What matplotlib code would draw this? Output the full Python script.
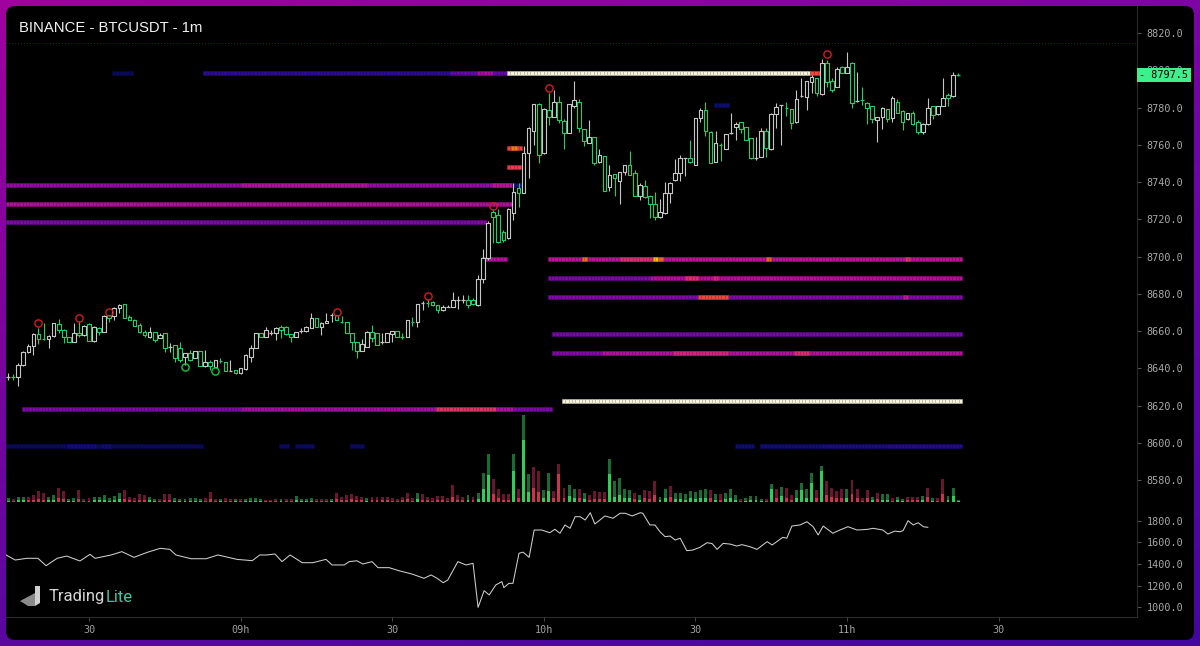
import numpy as np
import matplotlib
matplotlib.use("Agg")
import matplotlib.pyplot as plt
from matplotlib.patches import Rectangle, FancyBboxPatch, Polygon
from matplotlib.collections import PatchCollection, LineCollection
from matplotlib.colors import LinearSegmentedColormap, to_rgb
from matplotlib.transforms import blended_transform_factory
from matplotlib.ticker import FormatStrFormatter

plt.rcParams['font.family'] = ['DejaVu Sans Mono']

# ---------------- data ----------------
first_minute = 14  # 08:14
c_open = [8635.5, 8635.8, 8635.5, 8641.8, 8648.9, 8652.1, 8658.4, 8656.0, 8655.5, 8657.3,
          8663.6, 8660.5, 8656.6, 8654.3, 8659.1, 8657.9, 8663.8, 8654.8, 8661.4, 8659.6,
          8668.4, 8668.1, 8672.2, 8674.3, 8667.7, 8665.9, 8663.2, 8659.6, 8656.6, 8659.6,
          8656.1, 8658.8, 8651.4, 8652.5, 8650.7, 8645.8, 8648.4, 8645.3, 8649.4, 8641.2,
          8643.5, 8640.5, 8644.2, 8643.5, 8638.7, 8639.2, 8637.3, 8639.4, 8645.8, 8650.7,
          8659.1, 8656.6, 8659.0, 8658.8, 8662.3, 8662.3, 8658.4, 8656.6, 8660.2, 8660.2,
          8661.4, 8666.8, 8662.3, 8664.5, 8668.6, 8668.6, 8665.1, 8665.0, 8659.1, 8653.9,
          8649.4, 8651.2, 8659.6, 8658.8, 8654.3, 8653.9, 8658.4, 8660.2, 8657.1, 8656.6,
          8665.1, 8665.0, 8675.2, 8675.3, 8675.8, 8674.0, 8671.3, 8673.0, 8673.0, 8676.6,
          8676.6, 8676.6, 8676.6, 8674.0, 8688.0, 8699.0, 8724.0, 8722.3, 8713.3, 8709.7,
          8723.5, 8736.6, 8733.9, 8755.7, 8767.6, 8781.7, 8755.4, 8778.6, 8774.7, 8782.8,
          8772.7, 8766.5, 8780.8, 8782.8, 8768.4, 8760.7, 8764.0, 8751.0, 8754.1, 8737.1,
          8744.3, 8740.7, 8745.5, 8749.1, 8744.6, 8732.5, 8737.8, 8732.5, 8728.2, 8721.0,
          8723.2, 8733.9, 8740.9, 8744.6, 8752.7, 8752.7, 8749.1, 8774.2, 8778.6, 8767.0,
          8750.9, 8760.0, 8757.5, 8766.5, 8769.3, 8772.4, 8769.3, 8763.4, 8752.7, 8753.6,
          8767.6, 8757.5, 8776.5, 8781.3, 8779.6, 8779.0, 8772.4, 8786.2, 8785.4, 8793.9,
          8795.7, 8787.3, 8804.0, 8794.4, 8791.2, 8801.9, 8798.7, 8804.0, 8783.6, 8784.0,
          8782.6, 8780.8, 8773.3, 8774.7, 8779.0, 8774.2, 8783.1, 8778.3, 8773.6, 8777.2,
          8772.4, 8767.0, 8771.1, 8780.8, 8776.5, 8780.8, 8786.7, 8786.2, 8797.8]
c_high = [8637.3, 8636.7, 8642.7, 8649.4, 8653.0, 8658.8, 8661.5, 8664.5, 8657.9, 8664.5,
          8666.3, 8660.9, 8657.0, 8664.1, 8665.5, 8663.2, 8664.5, 8662.7, 8662.3, 8668.6,
          8668.6, 8672.7, 8674.5, 8674.5, 8668.6, 8666.3, 8664.1, 8660.5, 8662.3, 8659.6,
          8658.8, 8658.8, 8653.4, 8652.5, 8654.3, 8648.4, 8649.8, 8649.4, 8649.4, 8649.8,
          8644.4, 8644.4, 8645.3, 8643.5, 8644.4, 8639.2, 8640.0, 8647.7, 8652.5, 8658.8,
          8659.1, 8662.0, 8660.5, 8662.3, 8663.2, 8662.7, 8658.4, 8659.6, 8661.4, 8662.7,
          8669.5, 8666.8, 8665.0, 8669.5, 8669.5, 8668.8, 8668.0, 8665.0, 8659.1, 8653.9,
          8655.5, 8660.2, 8663.2, 8658.8, 8658.8, 8659.1, 8660.2, 8660.2, 8659.1, 8665.9,
          8667.4, 8674.5, 8676.3, 8677.0, 8676.3, 8674.0, 8674.0, 8674.0, 8681.1, 8678.8,
          8679.3, 8679.3, 8677.5, 8690.0, 8704.0, 8719.0, 8725.5, 8725.3, 8714.2, 8725.8,
          8739.3, 8739.3, 8759.3, 8769.7, 8781.7, 8782.2, 8779.5, 8788.0, 8789.4, 8786.2,
          8773.6, 8781.7, 8794.4, 8784.4, 8768.4, 8773.3, 8764.0, 8757.5, 8754.1, 8749.1,
          8744.3, 8745.2, 8749.1, 8756.8, 8746.4, 8739.3, 8741.0, 8733.0, 8734.8, 8730.7,
          8740.0, 8740.2, 8752.2, 8754.5, 8752.9, 8762.5, 8774.2, 8779.5, 8783.1, 8767.6,
          8767.6, 8760.7, 8765.8, 8777.2, 8772.4, 8772.4, 8769.3, 8763.4, 8764.3, 8768.8,
          8768.8, 8776.9, 8782.2, 8781.3, 8783.1, 8779.0, 8789.4, 8795.7, 8794.4, 8797.4,
          8795.7, 8806.0, 8805.5, 8795.7, 8801.9, 8802.3, 8810.0, 8804.5, 8799.2, 8790.8,
          8783.1, 8780.8, 8774.7, 8780.4, 8779.0, 8786.2, 8784.4, 8778.6, 8777.2, 8778.3,
          8773.3, 8771.8, 8784.9, 8780.8, 8780.8, 8795.7, 8787.6, 8799.2, 8798.3]
c_low = [8633.7, 8633.7, 8630.5, 8641.2, 8648.0, 8647.1, 8653.0, 8655.3, 8650.7, 8657.0,
         8658.8, 8653.4, 8654.3, 8654.3, 8656.6, 8657.3, 8654.8, 8654.3, 8657.9, 8659.6,
         8665.0, 8666.0, 8669.5, 8667.2, 8665.9, 8662.9, 8659.1, 8657.0, 8656.1, 8654.3,
         8656.1, 8648.9, 8648.9, 8643.5, 8643.5, 8641.8, 8644.0, 8645.3, 8641.2, 8640.8,
         8639.0, 8640.5, 8642.7, 8638.7, 8638.7, 8637.0, 8637.0, 8639.0, 8643.5, 8650.7,
         8656.6, 8656.6, 8657.9, 8655.2, 8656.1, 8657.9, 8654.3, 8656.6, 8658.8, 8659.6,
         8661.4, 8662.3, 8657.9, 8664.5, 8665.0, 8665.9, 8664.5, 8658.8, 8649.8, 8645.3,
         8649.4, 8651.2, 8654.3, 8652.5, 8653.0, 8653.9, 8654.3, 8656.6, 8655.5, 8656.6,
         8662.9, 8662.0, 8671.3, 8673.1, 8673.5, 8669.5, 8671.0, 8672.7, 8672.7, 8671.6,
         8675.2, 8672.2, 8674.0, 8673.5, 8686.0, 8698.0, 8707.4, 8707.4, 8707.9, 8709.2,
         8719.6, 8726.7, 8733.9, 8742.0, 8759.9, 8750.4, 8754.8, 8770.6, 8774.7, 8771.8,
         8757.5, 8766.1, 8779.5, 8767.0, 8759.3, 8760.7, 8749.0, 8750.0, 8735.3, 8735.3,
         8732.5, 8728.2, 8743.7, 8743.7, 8732.5, 8730.3, 8731.2, 8720.5, 8719.6, 8720.5,
         8722.8, 8728.5, 8740.7, 8740.7, 8743.2, 8750.0, 8749.1, 8772.4, 8764.7, 8750.0,
         8750.9, 8751.4, 8757.5, 8765.8, 8762.5, 8766.5, 8762.5, 8752.2, 8751.8, 8753.6,
         8753.6, 8757.2, 8768.8, 8759.9, 8775.4, 8768.2, 8771.5, 8785.5, 8778.6, 8787.6,
         8786.2, 8786.6, 8790.8, 8788.5, 8790.8, 8798.3, 8798.7, 8779.5, 8783.1, 8781.3,
         8771.1, 8771.5, 8761.6, 8768.3, 8772.4, 8772.4, 8776.9, 8767.9, 8773.3, 8770.6,
         8765.8, 8765.8, 8770.6, 8773.6, 8776.0, 8780.8, 8780.8, 8785.8, 8797.0]
c_close = [8635.5, 8635.3, 8641.8, 8648.9, 8652.1, 8658.4, 8655.5, 8655.5, 8657.3, 8664.1,
           8660.5, 8656.6, 8654.3, 8659.1, 8657.9, 8662.7, 8654.8, 8662.3, 8659.6, 8668.1,
           8667.2, 8672.2, 8674.0, 8667.2, 8665.9, 8662.9, 8659.6, 8657.9, 8659.6, 8655.2,
           8657.9, 8650.7, 8651.6, 8645.3, 8644.4, 8648.4, 8644.4, 8649.4, 8641.2, 8643.5,
           8641.2, 8644.4, 8644.0, 8638.7, 8638.8, 8637.3, 8640.0, 8647.1, 8650.7, 8658.8,
           8656.6, 8660.5, 8659.1, 8661.4, 8660.5, 8658.4, 8656.6, 8659.6, 8660.2, 8662.3,
           8666.8, 8662.3, 8664.5, 8665.5, 8668.6, 8665.9, 8664.9, 8658.8, 8653.9, 8649.4,
           8653.0, 8659.6, 8656.1, 8652.5, 8654.3, 8659.1, 8660.2, 8656.6, 8656.9, 8665.9,
           8664.9, 8674.5, 8675.2, 8675.1, 8674.0, 8671.3, 8673.0, 8673.0, 8676.6, 8676.6,
           8676.6, 8674.0, 8674.5, 8688.0, 8699.0, 8718.0, 8721.4, 8708.0, 8708.8, 8725.3,
           8734.8, 8733.9, 8755.7, 8768.8, 8781.7, 8754.5, 8779.0, 8774.7, 8782.8, 8773.3,
           8766.1, 8781.7, 8784.0, 8768.8, 8762.2, 8764.0, 8750.0, 8754.5, 8735.3, 8743.7,
           8741.9, 8745.2, 8749.1, 8743.7, 8732.5, 8738.4, 8732.1, 8728.2, 8721.4, 8724.0,
           8733.9, 8739.6, 8745.0, 8752.7, 8752.7, 8750.9, 8774.2, 8778.6, 8767.6, 8750.0,
           8760.7, 8759.8, 8765.8, 8766.5, 8771.1, 8768.2, 8762.5, 8752.7, 8752.7, 8767.6,
           8758.1, 8776.5, 8780.4, 8781.3, 8779.4, 8771.8, 8784.4, 8786.2, 8794.4, 8796.2,
           8787.6, 8804.0, 8793.9, 8789.4, 8800.5, 8798.3, 8801.9, 8782.6, 8783.6, 8783.8,
           8780.0, 8773.6, 8774.7, 8779.9, 8773.6, 8784.9, 8777.2, 8772.4, 8777.2, 8771.1,
           8767.0, 8771.1, 8779.5, 8776.0, 8780.8, 8784.9, 8784.9, 8797.4, 8797.5]

vol = [4, 2.7, 5.3, 5.3, 5.3, 6.7, 10.7, 8.7, 5.3, 7.3,
       13.7, 11, 3.3, 4.3, 12, 2.7, 4, 5, 5, 6.7,
       4, 6, 9.3, 11.7, 5.3, 3.7, 7.7, 6.7, 4.7, 2.7,
       2.7, 8.3, 7.7, 4, 2.7, 3.3, 3.7, 4, 3.3, 4,
       10, 2.7, 3.3, 4, 3.3, 2.7, 3.3, 2.7, 4.3, 3.7,
       3.3, 2, 2, 2.7, 3.3, 2.7, 3.3, 6, 2.7, 2.7,
       4, 3.3, 3.3, 3.3, 3.3, 9.3, 5.3, 6.7, 8, 6,
       5.3, 4, 5.3, 5.3, 4.7, 4.7, 4.3, 3.3, 5, 8.7,
       4, 8.7, 7.7, 5, 4.3, 5.7, 5.7, 4.3, 17.3, 6.7,
       4.7, 6.7, 5, 8.7, 29.3, 48.3, 23.3, 13.3, 7.7, 7.7,
       47.7, 13.3, 87, 28.3, 35, 31, 12, 29.3, 11, 38.3,
       13.7, 16.7, 12.7, 13.3, 8.7, 6.7, 11, 10, 10, 43.3,
       21, 24.3, 13.3, 12, 8.7, 6.7, 12, 11, 21, 5.3,
       12.7, 16, 8.7, 9.3, 7.7, 11, 10, 12, 13.3, 12,
       7.7, 7.7, 8.7, 12.7, 6.7, 3.3, 4, 6, 6, 2.7,
       3.3, 18.3, 12.7, 15.3, 14.3, 6.7, 12, 18.7, 12.7, 29.3,
       12, 36, 21, 14.3, 11, 12.7, 13.3, 22, 13.3, 4.3,
       12, 5.3, 9.3, 7.7, 7.7, 4.3, 5.3, 3.3, 5, 5.3,
       5.3, 6, 14.3, 4.3, 4.3, 22.7, 6, 14.3, 2]
vol_b = [1.5, 1, 2, 2, 2, 2, 3, 2.5, 2, 2.5,
         4, 3, 1.5, 1.5, 3, 1, 1.5, 2, 2, 2.5,
         1.5, 2, 3, 3.5, 2, 1.5, 2.5, 2, 2, 1,
         1, 2.5, 2.5, 1.5, 1, 1.5, 1.5, 1.5, 1.5, 1.5,
         3, 1, 1.5, 1.5, 1.5, 1, 1.5, 1, 1.5, 1.5,
         1.5, 1, 1, 1, 1.5, 1, 1.5, 2.5, 1, 1,
         1.5, 1.5, 1.5, 1.5, 1.5, 3, 2, 2.5, 3, 2,
         2, 1.5, 2, 2, 2, 2, 1.5, 1.5, 2, 3,
         1.5, 3.5, 2.5, 2, 1.5, 2, 2, 1.5, 5, 2.5,
         2, 2.5, 2, 3, 13, 27, 8, 4, 2.5, 2.5,
         31, 4, 62, 10, 14, 10, 4, 11, 4, 27.7,
         4, 6, 4, 4, 3, 2.5, 3.5, 3.5, 3.5, 27.7,
         5.3, 6.7, 4, 4, 3, 2.5, 4, 3.5, 7, 2,
         4, 5, 3, 3, 2.5, 4, 3.5, 4, 4.5, 4,
         2.5, 2.5, 3, 4, 2.5, 1.5, 1.5, 2, 2, 1,
         1.5, 12.7, 4, 6, 4.5, 2.5, 4, 12, 4, 19.3,
         4, 31, 7, 5, 4, 4, 4.5, 8, 4.5, 1.5,
         4, 2, 3, 2.5, 2.5, 1.5, 2, 1.5, 2, 2,
         2, 2, 5, 1.5, 1.5, 8, 2, 6, 1]
vol_side = ("grggrrrrg" "g"
            "rrggrrrggg"
            "gggrrrrrgg"
            "rrrggggggr"
            "rrgrrgrggg"
            "grrrgrrggg"
            "grrrgrrrrr"
            "rgrrrrrrrr"
            "rgrrrrrrrr"
            "rgrgggrrrr"
            "grggrrggrr"
            "rggrgrrrrg"
            "ggggrgrrrg"
            "grgggggggr"
            "grgggrgggg"
            "rgrgrrgggg"
            "rgrrrrgrrr"
            "rgrggrggrr"
            "rgrgrrggg")

cvd_t = [13.6, 15.4, 17.7, 19.9, 21.5, 23.7, 25.6, 28.2, 30.2, 31.2, 34.4, 36.5, 38.9, 41.5,
         44.1, 46.0, 47.2, 50.2, 53.2, 55.5, 59.3, 62.3, 63.8, 65.2, 66.8, 68.2, 69.8, 72.2,
         74.3, 76.9, 78.1, 80.5, 81.5, 83.0, 84.2, 86.0, 87.2, 89.4, 91.3, 93.9, 96.3, 97.7,
         98.9, 100.1, 101.0, 103.0, 104.6, 106.0, 107.0, 108.2, 109.2, 110.5, 111.7, 112.1,
         113.1, 113.9, 115.1, 115.9, 117.1, 118.1, 119.6,
         121.2, 122.2, 123.2, 124.2, 125.2, 126.2, 127.2, 128.2, 129.2, 130.1,
         131.1, 132.1, 133.7, 135.1, 136.1, 137.5, 139.1, 139.6, 141.0, 142.0,
         143.0, 144.0, 145.0, 146.0, 147.0, 148.3, 149.5, 150.9, 152.3, 153.3,
         154.3, 155.5, 156.9, 158.2, 159.2, 160.8, 162.2, 164.2, 165.2, 167.3,
         168.1, 169.1, 170.7, 172.1, 173.3, 174.3, 175.3, 177.2, 178.6, 180.2,
         182.0, 184.0, 185.2, 187.1, 188.1, 189.5, 190.5, 191.1, 192.1, 193.1,
         194.1, 195.1, 196.0]
cvd_v = [1484, 1437, 1453, 1453, 1384, 1453, 1474, 1428, 1490, 1453, 1484, 1515, 1462, 1508,
         1546, 1536, 1484, 1449, 1449, 1484, 1443, 1431, 1484, 1484, 1493, 1422, 1484, 1412,
         1412, 1443, 1391, 1391, 1422, 1430, 1400, 1422, 1366, 1366, 1338, 1307, 1267, 1298,
         1267, 1226, 1251, 1422, 1391, 1406, 997, 1152, 1112, 1205, 1236, 1180,
         1220, 1220, 1500, 1510, 1462, 1716, 1716,
         1691, 1723, 1686, 1763, 1732, 1840, 1840, 1809, 1877, 1772,
         1809, 1847, 1825, 1872, 1872, 1847, 1877, 1872, 1763, 1763,
         1700, 1654, 1660, 1623, 1640, 1524, 1530, 1555, 1598, 1590,
         1536, 1592, 1585, 1567, 1580, 1561, 1536, 1608, 1577, 1648,
         1640, 1753, 1763, 1793, 1747, 1670, 1753, 1686, 1716, 1747,
         1716, 1722, 1732, 1716, 1679, 1706, 1700, 1710, 1803, 1763,
         1784, 1747, 1741]

# liquidity heatmap segments: price level, start minute, end minute, intensity
hm_p = [8798.5, 8798.5, 8798.5, 8798.5, 8798.5, 8798.5, 8798.5,
        8738.4, 8738.4, 8738.4, 8738.4,
        8728.4, 8718.4,
        8758.4, 8758.4, 8748.2, 8698.5,
        8698.5, 8698.5, 8698.5, 8698.5, 8698.5, 8698.5, 8698.5,
        8688.3, 8688.3, 8688.3, 8688.3,
        8678.3, 8678.3, 8678.3,
        8658.2,
        8648.2, 8648.2, 8648.2, 8648.2,
        8622.3,
        8618.1, 8618.1, 8618.1, 8618.1, 8618.1,
        8598.3, 8598.3, 8598.3, 8598.3, 8598.3, 8598.3, 8598.3, 8598.3, 8598.3, 8598.3,
        8781.4]
hm_t0 = [34.5, 52.6, 101.4, 106.7, 110.0, 112.7, 172.7,
         13.6, 60.0, 109.8, 113.7,
         13.6, 13.6,
         112.7, 113.5, 112.7, 107.8,
         120.8, 127.5, 135.0, 141.6, 142.6, 164.0, 191.5,
         120.8, 141.0, 148.0, 153.5,
         120.8, 150.5, 191.0,
         121.6,
         121.6, 131.5, 145.5, 169.5,
         123.6,
         16.7, 60.0, 98.7, 110.5, 114.0,
         13.6, 25.6, 32.4, 67.6, 70.8, 81.7, 157.8, 162.8, 175.0, 188.0,
         153.7]
hm_t1 = [38.7, 101.4, 106.7, 110.0, 112.7, 172.7, 175.0,
         113.7, 85.0, 113.7, 115.6,
         113.7, 108.6,
         115.7, 114.7, 115.5, 112.7,
         202.8, 128.5, 141.5, 142.6, 143.5, 165.0, 192.5,
         141.0, 202.8, 150.5, 154.5,
         202.8, 156.5, 192.0,
         202.8,
         131.5, 202.8, 156.5, 172.5,
         202.8,
         60.0, 98.7, 110.5, 114.0, 121.6,
         52.6, 31.4, 34.4, 69.6, 74.5, 84.4, 161.6, 175.0, 188.0, 202.8,
         156.6]
hm_v = [0.06, 0.22, 0.36, 0.50, 0.36, 1.00, 0.74,
        0.47, 0.52, 0.55, 0.14,
        0.52, 0.42,
        0.72, 0.84, 0.70, 0.53,
        0.55, 0.82, 0.64, 0.92, 0.80, 0.80, 0.66,
        0.42, 0.52, 0.64, 0.62,
        0.43, 0.74, 0.57,
        0.41,
        0.43, 0.53, 0.61, 0.64,
        1.00,
        0.42, 0.50, 0.66, 0.52, 0.42,
        0.06, 0.11, 0.10, 0.07, 0.07, 0.07, 0.10, 0.11, 0.15, 0.18,
        0.10]

hi_t = [20, 28, 34, 79, 97, 110, 121, 176]
hi_p = [8664.1, 8666.8, 8670.3, 8670.3, 8679.0, 8727.1, 8790.3, 8808.5]
lo_t = [49, 55]
lo_p = [8640.5, 8638.7]

price_ticks = list(range(8580, 8821, 20))
cvd_ticks = [1000, 1200, 1400, 1600, 1800]
time_ticks = [30, 60, 90, 120, 150, 180, 210]
time_labels = ["30", "09h", "30", "10h", "30", "11h", "30"]

# ---------------- layout ----------------
W, H = 1200, 646
fig = plt.figure(figsize=(W / 100, H / 100), dpi=100)


def pos(x0, y0, x1, y1):
    return [x0 / W, 1 - y1 / H, (x1 - x0) / W, (y1 - y0) / H]


bg = fig.add_axes([0, 0, 1, 1])
gy, gx = np.mgrid[0:1:120j, 0:1:220j]
ctl, ctr = np.array(to_rgb('#a0009e')), np.array(to_rgb('#7e04a6'))
cbl, cbr = np.array(to_rgb('#5a08a0')), np.array(to_rgb('#4208a0'))
img = (ctl * ((1 - gx) * (1 - gy))[..., None] + ctr * (gx * (1 - gy))[..., None]
       + cbl * ((1 - gx) * gy)[..., None] + cbr * (gx * gy)[..., None])
bg.imshow(img, extent=[0, W, H, 0], aspect='auto', interpolation='bilinear', zorder=0)
bg.set_xlim(0, W)
bg.set_ylim(H, 0)
bg.axis('off')
bg.add_patch(FancyBboxPatch((6, 6), 1188, 634, boxstyle='round,pad=0,rounding_size=9',
                            fc='#000000', ec='none', zorder=1))
bg.text(19, 27.5, 'BINANCE - BTCUSDT - 1m', color='#f2f2f2', fontsize=10.7,
        family='Liberation Sans', va='center', ha='left', zorder=2)

T0, T1 = 13.574, 237.4
t = np.arange(first_minute, first_minute + len(c_close))

# main price pane
ax = fig.add_axes(pos(6, 6, 1137, 505))
ax.set_facecolor('none')
ax.set_xlim(T0, T1)
ax.set_ylim(8566.6, 8834.5)

cmap = LinearSegmentedColormap.from_list('hm', [
    (0.00, '#05053a'), (0.10, '#0e0e72'), (0.22, '#2c0a96'), (0.38, '#6a0aa8'),
    (0.45, '#8a0aa6'), (0.52, '#b0109c'), (0.58, '#c81890'), (0.65, '#e0306a'),
    (0.75, '#f04838'), (0.85, '#f47a10'), (0.92, '#f8c000'), (1.00, '#f8f4dc')])

rects, fcs, ecs = [], [], []
for p, a, b, v in zip(hm_p, hm_t0, hm_t1, hm_v):
    n = max(1, int(round((b - a) / 0.66)))
    w = (b - a) / n
    col = np.array(cmap(v)[:3])
    for i in range(n):
        rects.append(Rectangle((a + i * w, p - 1.07), w, 2.14))
        fcs.append(col)
        ecs.append(col * 0.75)
ax.add_collection(PatchCollection(rects, facecolors=fcs, edgecolors=ecs,
                                  linewidths=0.4, zorder=1))

ax.axhline(8814.6, color='#0f3d18', lw=0.7, ls=(0, (1, 2)), zorder=1)

WHITE, GREEN = '#c6c6c6', '#22cc68'
wick_segs, wick_cols, bodies, body_cols, doji_segs, doji_cols = [], [], [], [], [], []
bw = 0.72
for ti, o, h, l, c in zip(t, c_open, c_high, c_low, c_close):
    col = WHITE if c >= o else GREEN
    top, bot = max(o, c), min(o, c)
    if top - bot < 0.6:
        wick_segs.append([(ti, l), (ti, h)])
        wick_cols.append(col)
        doji_segs.append([(ti - bw / 2, (o + c) / 2), (ti + bw / 2, (o + c) / 2)])
        doji_cols.append(col)
    else:
        wick_segs.append([(ti, l), (ti, bot)])
        wick_segs.append([(ti, top), (ti, h)])
        wick_cols += [col, col]
        bodies.append(Rectangle((ti - bw / 2, bot), bw, top - bot))
        body_cols.append(col)
ax.add_collection(LineCollection(wick_segs, colors=wick_cols, linewidths=0.8, zorder=3))
ax.add_collection(PatchCollection(bodies, facecolors='#000000', edgecolors=body_cols,
                                  linewidths=0.8, zorder=4))
ax.add_collection(LineCollection(doji_segs, colors=doji_cols, linewidths=0.9, zorder=4))

ax.plot(hi_t, hi_p, ls='none', marker='o', ms=5.2, mfc='none', mec='#d81c1c', mew=1.0, zorder=5)
ax.plot(lo_t, lo_p, ls='none', marker='o', ms=5.2, mfc='none', mec='#16c83a', mew=1.0, zorder=5)

for s in ['top', 'left', 'bottom']:
    ax.spines[s].set_visible(False)
ax.spines['right'].set_color('#2c2c2c')
ax.spines['right'].set_linewidth(0.8)
ax.set_xticks([])
ax.yaxis.tick_right()
ax.set_yticks(price_ticks)
ax.yaxis.set_major_formatter(FormatStrFormatter('%.1f'))
ax.tick_params(axis='y', length=3, width=0.8, color='#555555', labelcolor='#a8a8a8',
               labelsize=7.3, pad=4)

# last price tag (covers most of the 8800.0 label, as in the original)
blend = blended_transform_factory(ax.transAxes, ax.transData)
last = c_close[-1]
ax.add_patch(Rectangle((1.0, last - 3.76), 54 / 1131, 7.52, transform=blend,
                       fc='#3cf08c', ec='none', clip_on=False, zorder=10))
ax.text(1.0 + 2 / 1131, last, '- %.1f' % last, transform=blend, va='center', ha='left',
        fontsize=7.3, color='#000000', clip_on=False, zorder=11)

# volume
axv = fig.add_axes(pos(6, 415, 1137, 502))
axv.set_facecolor('none')
axv.axis('off')
axv.set_xlim(T0, T1)
axv.set_ylim(0, 87)
dark = ['#1a6a34' if s == 'g' else '#6c1530' for s in vol_side]
bright = ['#2fce5a' if s == 'g' else '#d2304f' for s in vol_side]
axv.bar(t, vol, width=0.58, color=dark, linewidth=0)
axv.bar(t, vol_b, width=0.58, color=bright, linewidth=0)

# cvd pane
ax2 = fig.add_axes(pos(6, 505, 1137, 617))
ax2.set_facecolor('none')
ax2.set_xlim(T0, T1)
ax2.set_ylim(907, 1948.8)
ax2.plot(cvd_t, cvd_v, color='#cfcfcf', lw=0.75)
for s in ['top', 'left']:
    ax2.spines[s].set_visible(False)
for s in ['right', 'bottom']:
    ax2.spines[s].set_color('#2c2c2c')
    ax2.spines[s].set_linewidth(0.8)
ax2.yaxis.tick_right()
ax2.set_yticks(cvd_ticks)
ax2.yaxis.set_major_formatter(FormatStrFormatter('%.1f'))
ax2.tick_params(axis='y', length=3, width=0.8, color='#555555', labelcolor='#a8a8a8',
                labelsize=7.3, pad=4)
ax2.set_xticks(time_ticks)
ax2.set_xticklabels(time_labels)
ax2.tick_params(axis='x', length=3, width=0.8, color='#444444', labelcolor='#a0a0a0',
                labelsize=7.3, pad=3)

# overlay: logo
ov = fig.add_axes([0, 0, 1, 1])
ov.set_xlim(0, W)
ov.set_ylim(H, 0)
ov.axis('off')
ov.patch.set_alpha(0)
ov.add_patch(Polygon([(20, 601), (35, 593), (35, 606), (28, 606)], closed=True,
                     fc='#8a8a8a', ec='none'))
ov.add_patch(Polygon([(35, 586), (40, 586), (40, 603), (35, 606)], closed=True,
                     fc='#d0d0d0', ec='none'))
t1 = ov.text(49, 597, 'Trading', color='#d6d6d6', fontsize=12, family='Roboto',
             va='center', ha='left')
r = fig.canvas.get_renderer()
bb = t1.get_window_extent(r)
xend = ov.transData.inverted().transform((bb.x1, bb.y0))[0]
ov.text(xend, 597, 'Lite', color='#3ec7a6', fontsize=12, family='Roboto',
        va='center', ha='left')

fig.savefig('out.png', dpi=100)
